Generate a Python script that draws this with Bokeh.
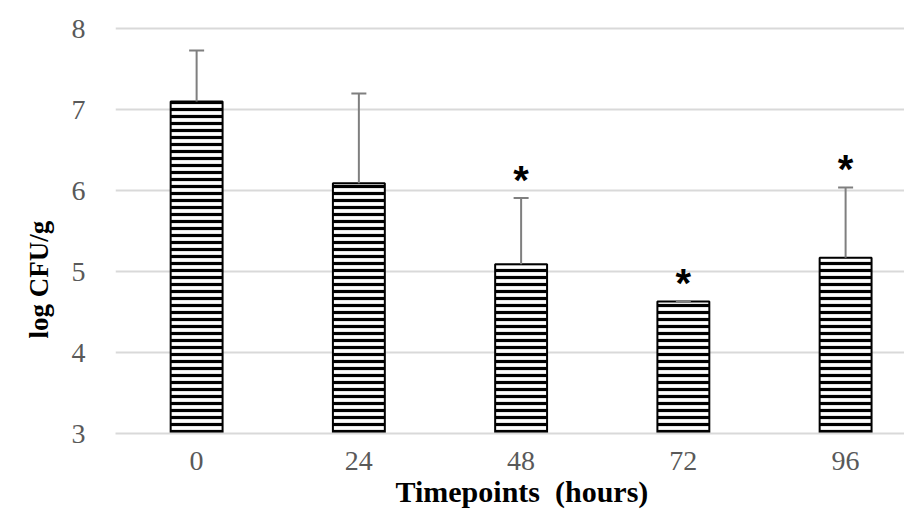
from bokeh.plotting import figure
from bokeh.models import ColumnDataSource, Whisker, FixedTicker, Range1d, Title
from bokeh.core.properties import value
from bokeh.embed import file_html
from bokeh.resources import INLINE

categories = ["0", "24", "48", "72", "96"]
means = [7.10, 6.09, 5.09, 4.63, 5.17]
errors = [0.63, 1.11, 0.82, 0.0, 0.87]
significant = [False, False, True, True, True]
y_ticks = [3, 4, 5, 6, 7, 8]
x_title = "Timepoints\u00a0\u00a0(hours)"
y_title = "log CFU/g"

xs = list(range(len(categories)))
upper = [m + e for m, e in zip(means, errors)]
src = ColumnDataSource(dict(x=xs, top=means, upper=upper))

p = figure(width=904, height=514, output_backend="svg", toolbar_location=None,
           x_range=Range1d(-0.5, 4.363), y_range=Range1d(3, 8.2),
           min_border_left=115, min_border_right=0, min_border_top=12, min_border_bottom=81)
p.outline_line_color = None
p.background_fill_color = "white"

p.vbar(x="x", top="top", bottom=3, width=0.32, source=src,
       fill_color="white", line_color="black", line_width=2,
       hatch_pattern="horizontal_line", hatch_color="black",
       hatch_scale=7, hatch_weight=3.2)

w = Whisker(base="x", upper="upper", lower="top", source=src,
            line_color="#7f7f7f", line_width=2, level="overlay")
w.upper_head.line_color = "#7f7f7f"
w.upper_head.line_width = 2
w.upper_head.size = 15
w.lower_head = None
p.add_layout(w)

sx = [x for x, s in zip(xs, significant) if s]
sy = [u + 0.3 for u, s in zip(upper, significant) if s]
p.text(x=sx, y=sy, text=["*"] * len(sx), text_align="center", text_baseline="middle",
       text_font=value("Liberation Sans"), text_font_style="bold",
       text_font_size="40px", text_color="black", y_offset=6)

p.xaxis.ticker = FixedTicker(ticks=xs)
p.xaxis.major_label_overrides = {i: c for i, c in enumerate(categories)}
p.yaxis.ticker = FixedTicker(ticks=y_ticks)

for ax in (p.xaxis[0], p.yaxis[0]):
    ax.major_tick_line_color = None
    ax.minor_tick_line_color = None
    ax.major_label_text_font = "Liberation Serif"
    ax.major_label_text_font_size = "28px"
    ax.major_label_text_color = "#595959"

p.yaxis.axis_line_color = None
p.xaxis.axis_line_color = "#d9d9d9"
p.xaxis.axis_line_width = 2
p.xaxis.major_label_standoff = 12
p.yaxis.major_label_standoff = 24

p.add_layout(Title(text=x_title, align="left", offset=280, standoff=0,
                   text_font="Liberation Serif", text_font_style="bold",
                   text_font_size="30px", text_color="black"), "below")
p.add_layout(Title(text=y_title, align="left", offset=95, standoff=29,
                   text_font="Liberation Serif", text_font_style="bold",
                   text_font_size="27px", text_color="black"), "left")

p.xgrid.grid_line_color = None
p.ygrid.grid_line_color = "#d9d9d9"
p.ygrid.grid_line_width = 2

open("out.html", "w").write(file_html(p, INLINE))
